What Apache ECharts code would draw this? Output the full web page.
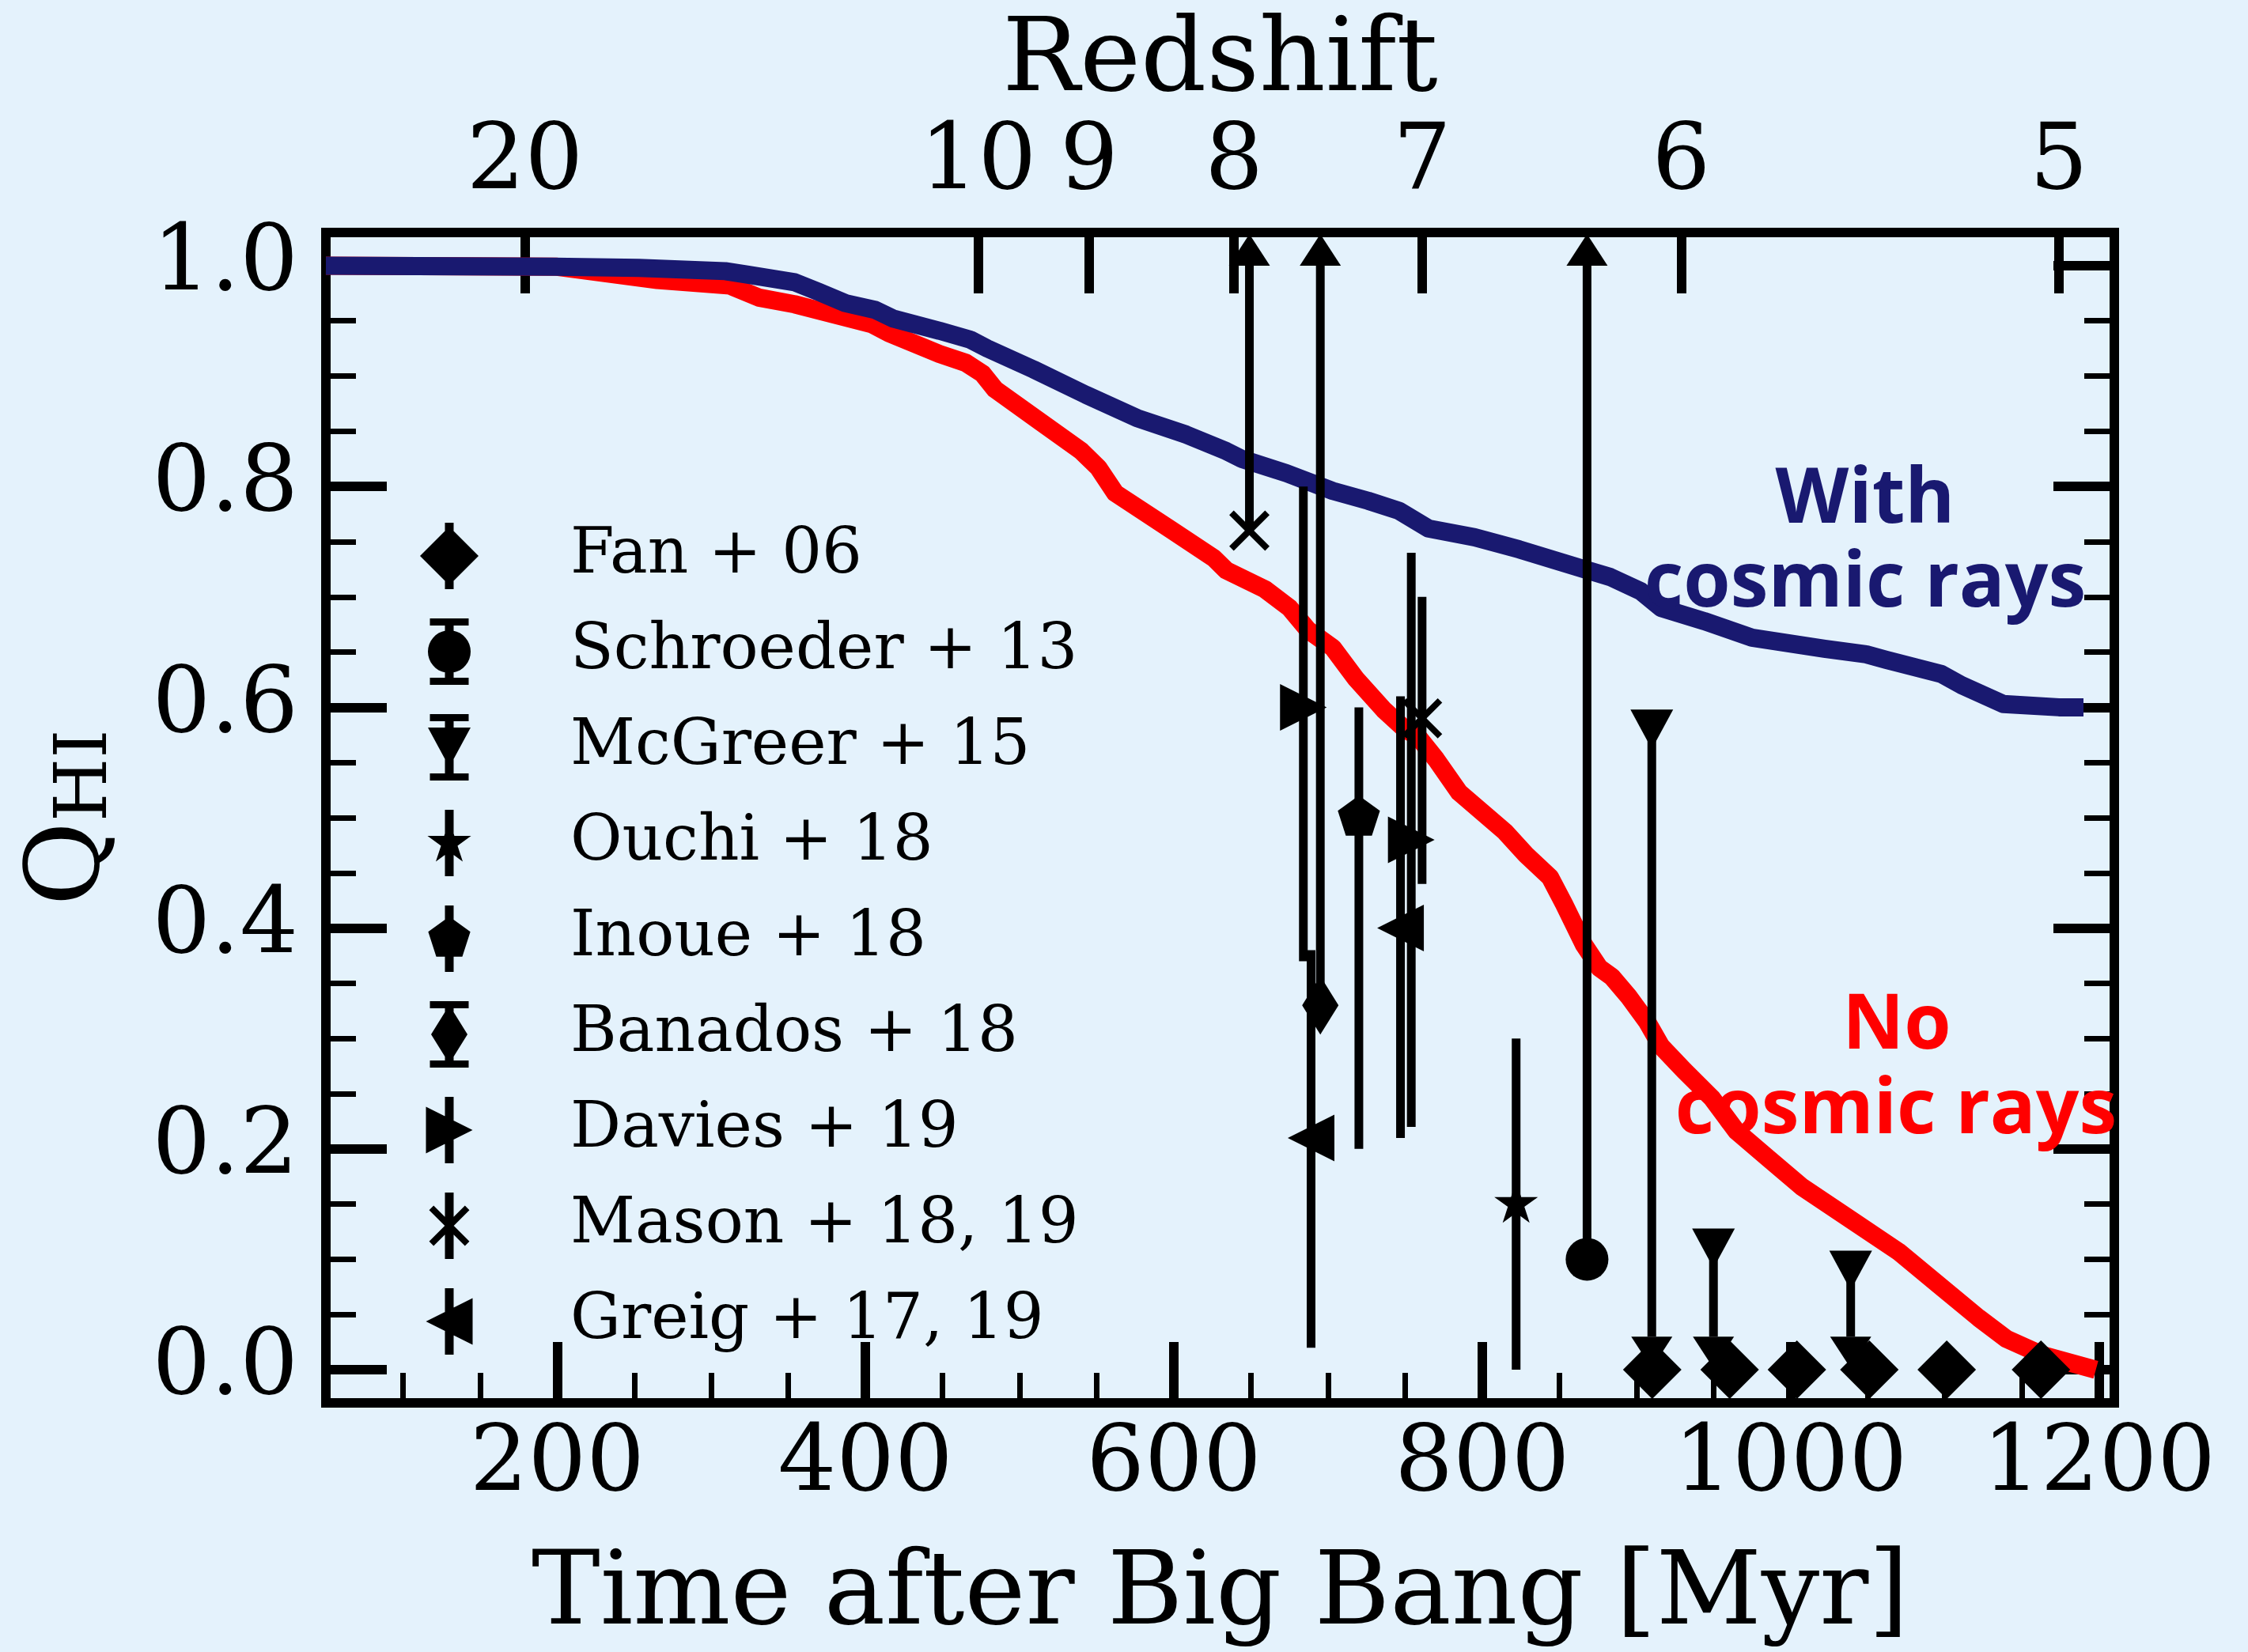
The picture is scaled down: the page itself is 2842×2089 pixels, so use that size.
<!DOCTYPE html>
<html>
<head>
<meta charset="utf-8">
<title>Neutral hydrogen fraction versus cosmic time</title>
<script src="https://cdn.jsdelivr.net/npm/echarts@6/dist/echarts.min.js"></script>
<style>
  html, body { margin: 0; padding: 0; background: #e4f2fc; }
  #chart { width: 2842px; height: 2089px; }
</style>
</head>
<body>
<div id="chart"></div>
<script>
// ---------------- model curves: Q_HI against time after the Big Bang [Myr]
const noCrTime = [50, 200, 265, 312, 331, 354, 379, 404, 415, 448, 465, 476, 484, 512, 540, 551, 562, 598, 626, 634,
  659, 675, 687, 703, 718, 736, 750, 758, 770, 785, 805, 815, 828, 844, 853, 866, 876, 884, 895, 907, 916, 931, 949,
  965, 986, 1007, 1038, 1070, 1096, 1122, 1140, 1164, 1198];
const noCrQ = [1.000, 0.999, 0.987, 0.982, 0.971, 0.965, 0.956, 0.947, 0.939, 0.920, 0.912, 0.902, 0.888, 0.860, 0.832,
  0.817, 0.794, 0.761, 0.735, 0.724, 0.707, 0.690, 0.670, 0.654, 0.626, 0.598, 0.580, 0.574, 0.553, 0.523, 0.499, 0.487,
  0.467, 0.446, 0.422, 0.385, 0.364, 0.356, 0.338, 0.315, 0.293, 0.271, 0.246, 0.216, 0.191, 0.166, 0.137, 0.107, 0.077,
  0.047, 0.028, 0.013, 0.000];

const withCrTime = [50, 198, 253, 309, 323, 354, 370, 387, 406, 418, 448, 468, 479, 509, 543, 576, 608, 634, 644, 673,
  703, 726, 746, 765, 795, 824, 864, 883, 903, 916, 944, 975, 1022, 1049, 1062, 1098, 1111, 1138, 1174, 1190];
const withCrQ = [1.000, 0.999, 0.998, 0.995, 0.992, 0.985, 0.976, 0.966, 0.960, 0.952, 0.941, 0.933, 0.925, 0.906, 0.883,
  0.862, 0.847, 0.832, 0.825, 0.812, 0.796, 0.787, 0.778, 0.762, 0.754, 0.743, 0.726, 0.718, 0.705, 0.690, 0.678, 0.663,
  0.653, 0.648, 0.643, 0.630, 0.620, 0.603, 0.600, 0.600];

// ---------------- observational constraints (limit: 1 = lower limit, -1 = upper limit, 0 = measurement)
const fanTime = [910.3, 960.5, 1004.1, 1051.1, 1101.3, 1162.4];
const fanQ    = [0, 0, 0, 0, 0, 0];
const fanLo   = [0, 0, 0, 0, 0, 0];
const fanHi   = [0, 0, 0, 0, 0, 0];
const fanLim  = [0, 0, 0, 0, 0, 0];

const schroederTime = [868];
const schroederQ    = [0.10];
const schroederLo   = [0];
const schroederHi   = [0.90];
const schroederLim  = [1];

const mcgreerTime = [910, 950, 1039];
const mcgreerQ    = [0.58, 0.11, 0.09];
const mcgreerLo   = [0.55, 0.08, 0.06];
const mcgreerHi   = [0, 0, 0];
const mcgreerLim  = [-1, -1, -1];

const ouchiTime = [822];
const ouchiQ    = [0.15];
const ouchiLo   = [0.15];
const ouchiHi   = [0.15];
const ouchiLim  = [0];

const inoueTime = [720];
const inoueQ    = [0.50];
const inoueLo   = [0.30];
const inoueHi   = [0.10];
const inoueLim  = [0];

const banadosTime = [695];
const banadosQ    = [0.33];
const banadosLo   = [0];
const banadosHi   = [0.67];
const banadosLim  = [1];

const daviesTime = [684, 754];
const daviesQ    = [0.60, 0.48];
const daviesLo   = [0.23, 0.26];
const daviesHi   = [0.20, 0.26];
const daviesLim  = [0, 0];

const masonTime = [649, 761];
const masonQ    = [0.76, 0.59];
const masonLo   = [0, 0.15];
const masonHi   = [0.24, 0.11];
const masonLim  = [1, 0];

const greigTime = [689, 747];
const greigQ    = [0.21, 0.40];
const greigLo   = [0.19, 0.19];
const greigHi   = [0.17, 0.21];
const greigLim  = [0, 0];

// ---------------- axis ticks and labels
const timeTicks = [200, 400, 600, 800, 1000, 1200];
const timeMinorTicks = [100, 150, 250, 300, 350, 450, 500, 550, 650, 700, 750, 850, 900, 950, 1050, 1100, 1150];
const redshiftLabels = ['20', '10', '9', '8', '7', '6', '5'];
const redshiftAges = [179, 473, 545, 639, 761, 929, 1174];
const qTicks = [0, 0.2, 0.4, 0.6, 0.8, 1.0];
const qMinorTicks = [0.05, 0.1, 0.15, 0.25, 0.3, 0.35, 0.45, 0.5, 0.55, 0.65, 0.7, 0.75, 0.85, 0.9, 0.95];

// ---------------- marker geometry (pixels, centred on the point)
function ngon(R, n, rot) {
  const pts = [];
  for (let i = 0; i < n; i++) {
    const a = (rot + i * 360 / n) * Math.PI / 180;
    pts.push([R * Math.cos(a), R * Math.sin(a)]);
  }
  return pts;
}
function starPts(R, r) {
  const pts = [];
  for (let i = 0; i < 10; i++) {
    const a = (-90 + i * 36) * Math.PI / 180;
    const rr = i % 2 === 0 ? R : r;
    pts.push([rr * Math.cos(a), rr * Math.sin(a)]);
  }
  return pts;
}
function armPts(angleDeg, halfLen, halfW) {
  const a = angleDeg * Math.PI / 180;
  const d = [Math.cos(a), Math.sin(a)], n = [-Math.sin(a), Math.cos(a)];
  return [
    [-halfLen * d[0] - halfW * n[0], -halfLen * d[1] - halfW * n[1]],
    [ halfLen * d[0] - halfW * n[0],  halfLen * d[1] - halfW * n[1]],
    [ halfLen * d[0] + halfW * n[0],  halfLen * d[1] + halfW * n[1]],
    [-halfLen * d[0] + halfW * n[0], -halfLen * d[1] + halfW * n[1]]
  ];
}
const MARKERS = {
  diamond:     [[[0, -37], [37, 0], [0, 37], [-37, 0]]],
  circle:      [ngon(27, 36, -90)],
  triDown:     [[[-27, -25], [27, -25], [0, 25]]],
  star:        [starPts(29, 11)],
  pentagon:    [ngon(28, 5, -90)],
  thinDiamond: [[[0, -37], [23, 0], [0, 37], [-23, 0]]],
  triRight:    [[[-29.5, -29.5], [29.5, 0], [-29.5, 29.5]]],
  cross:       [armPts(45, 32, 4), armPts(-45, 32, 4)],
  triLeft:     [[[29.5, -29.5], [29.5, 29.5], [-29.5, 0]]]
};
const CARET_UP = [[-26, 0], [0, -40], [26, 0]];
const CARET_DOWN = [[26, 0], [0, 40], [-26, 0]];
const BAR_HALF = 5.5;

function shift(pts, x, y) { return pts.map(p => [p[0] + x, p[1] + y]); }
function rectPts(x0, y0, x1, y1) { return [[x0, y0], [x1, y0], [x1, y1], [x0, y1]]; }
function polyEl(points) { return { type: 'polygon', shape: { points: points }, style: { fill: '#000' } }; }

function makeRenderer(markerName) {
  return function (params, api) {
    const t = api.value(0), q = api.value(1), lo = api.value(2), hi = api.value(3), lim = api.value(4);
    const c = api.coord([t, q]);
    const yTop = api.coord([t, q + hi])[1];
    const yBot = api.coord([t, q - lo])[1];
    const children = [];
    if (lo > 0 || hi > 0) children.push(polyEl(rectPts(c[0] - BAR_HALF, yTop, c[0] + BAR_HALF, yBot)));
    if (lim === 1) children.push(polyEl(shift(CARET_UP, c[0], yTop)));
    if (lim === -1) children.push(polyEl(shift(CARET_DOWN, c[0], yBot)));
    MARKERS[markerName].forEach(p => children.push(polyEl(shift(p, c[0], c[1]))));
    return { type: 'group', children: children };
  };
}

// legend handle: marker on a short vertical error bar, optional caps
function legendIcon(markerName, caps) {
  const cx = 40, cy = 42;
  const polys = [rectPts(cx - BAR_HALF, 0, cx + BAR_HALF, 84)];
  if (caps) {
    polys.push(rectPts(cx - 24.5, 0, cx + 24.5, 9));
    polys.push(rectPts(cx - 24.5, 75, cx + 24.5, 84));
  }
  MARKERS[markerName].forEach(p => polys.push(shift(p, cx, cy)));
  return 'path://' + polys.map(pts =>
    'M' + pts.map(p => p[0].toFixed(2) + ' ' + p[1].toFixed(2)).join(' L') + ' Z').join(' ');
}

function zip(a, b) { return a.map((v, i) => [v, b[i]]); }
function rows(t, q, lo, hi, lim) { return t.map((v, i) => [v, q[i], lo[i], hi[i], lim[i]]); }

const datasets = [
  { name: 'Fan + 06',        marker: 'diamond',     caps: false, data: rows(fanTime, fanQ, fanLo, fanHi, fanLim) },
  { name: 'Schroeder + 13',  marker: 'circle',      caps: true,  data: rows(schroederTime, schroederQ, schroederLo, schroederHi, schroederLim) },
  { name: 'McGreer + 15',    marker: 'triDown',     caps: true,  data: rows(mcgreerTime, mcgreerQ, mcgreerLo, mcgreerHi, mcgreerLim) },
  { name: 'Ouchi + 18',      marker: 'star',        caps: false, data: rows(ouchiTime, ouchiQ, ouchiLo, ouchiHi, ouchiLim) },
  { name: 'Inoue + 18',      marker: 'pentagon',    caps: false, data: rows(inoueTime, inoueQ, inoueLo, inoueHi, inoueLim) },
  { name: 'Banados + 18',    marker: 'thinDiamond', caps: true,  data: rows(banadosTime, banadosQ, banadosLo, banadosHi, banadosLim) },
  { name: 'Davies + 19',     marker: 'triRight',    caps: false, data: rows(daviesTime, daviesQ, daviesLo, daviesHi, daviesLim) },
  { name: 'Mason + 18, 19',  marker: 'cross',       caps: false, data: rows(masonTime, masonQ, masonLo, masonHi, masonLim) },
  { name: 'Greig + 17, 19',  marker: 'triLeft',     caps: false, data: rows(greigTime, greigQ, greigLo, greigHi, greigLim) }
];

const SERIF = 'DejaVu Serif';
const X_MIN = 50, X_MAX = 1210, Y_MIN = -0.03, Y_MAX = 1.03;

function tickAxis(extra) {
  return Object.assign({
    type: 'value',
    axisLine: { show: false, onZero: false },
    splitLine: { show: false },
    axisLabel: { show: false },
    axisPointer: { show: false }
  }, extra);
}
const labelStyle = { fontFamily: SERIF, fontSize: 116, lineHeight: 116, color: '#000' };

// legend icons sit centred in a wide slot; the slot's empty left part is trimmed by the layout
const LEGEND_SLOT = 296;
const LEGEND_TRIM = LEGEND_SLOT / 2 - 37;

const option = {
  backgroundColor: '#e4f2fc',
  animation: false,
  grid: {
    left: 412, right: 169, top: 294, bottom: 298,
    show: true, borderColor: '#000', borderWidth: 12, backgroundColor: 'transparent'
  },
  xAxis: [
    tickAxis({
      position: 'bottom', min: X_MIN, max: X_MAX,
      axisTick: { show: true, inside: true, length: 77, lineStyle: { color: '#000', width: 12 }, customValues: timeTicks },
      axisLabel: Object.assign({ show: true, margin: 22, customValues: timeTicks, formatter: v => String(v) }, labelStyle),
      name: 'Time after Big Bang [Myr]', nameLocation: 'middle', nameGap: 180,
      nameTextStyle: { fontFamily: SERIF, fontSize: 130, lineHeight: 130, color: '#000' }
    }),
    tickAxis({
      position: 'bottom', min: X_MIN, max: X_MAX,
      axisTick: { show: true, inside: true, length: 38, lineStyle: { color: '#000', width: 7 }, customValues: timeMinorTicks }
    }),
    tickAxis({
      position: 'top', min: X_MIN, max: X_MAX,
      axisTick: { show: true, inside: true, length: 77, lineStyle: { color: '#000', width: 12 }, customValues: redshiftAges },
      axisLabel: Object.assign({
        show: true, margin: 28, customValues: redshiftAges,
        formatter: v => redshiftLabels[redshiftAges.indexOf(v)]
      }, labelStyle),
      name: 'Redshift', nameLocation: 'middle', nameGap: 145,
      nameTextStyle: { fontFamily: SERIF, fontSize: 130, lineHeight: 130, color: '#000' }
    })
  ],
  yAxis: [
    tickAxis({
      position: 'left', min: Y_MIN, max: Y_MAX,
      axisTick: { show: true, inside: true, length: 77, lineStyle: { color: '#000', width: 12 }, customValues: qTicks },
      axisLabel: Object.assign({ show: true, margin: 35, customValues: qTicks, formatter: v => v.toFixed(1) }, labelStyle),
      name: '{q|Q}{s|HI}', nameLocation: 'middle', nameRotate: 90, nameGap: 256,
      nameTextStyle: {
        color: '#000',
        rich: {
          q: { fontFamily: SERIF, fontSize: 130, lineHeight: 130, verticalAlign: 'bottom', color: '#000' },
          s: { fontFamily: SERIF, fontSize: 92, lineHeight: 48, verticalAlign: 'bottom', color: '#000' }
        }
      }
    }),
    tickAxis({
      position: 'left', min: Y_MIN, max: Y_MAX,
      axisTick: { show: true, inside: true, length: 38, lineStyle: { color: '#000', width: 7 }, customValues: qMinorTicks }
    }),
    tickAxis({
      position: 'right', min: Y_MIN, max: Y_MAX,
      axisTick: { show: true, inside: true, length: 77, lineStyle: { color: '#000', width: 12 }, customValues: qTicks }
    }),
    tickAxis({
      position: 'right', min: Y_MIN, max: Y_MAX,
      axisTick: { show: true, inside: true, length: 38, lineStyle: { color: '#000', width: 7 }, customValues: qMinorTicks }
    })
  ],
  legend: {
    orient: 'vertical', left: 420 + LEGEND_TRIM, top: 661, padding: 0,
    itemWidth: LEGEND_SLOT, itemHeight: 84, itemGap: 37,
    symbolKeepAspect: true, selectedMode: false,
    itemStyle: { color: '#000', borderWidth: 0 },
    textStyle: { fontFamily: SERIF, fontSize: 80, lineHeight: 80, color: '#000' },
    data: datasets.map(d => ({ name: d.name, icon: legendIcon(d.marker, d.caps) }))
  },
  series: [
    {
      type: 'line', name: 'No cosmic rays', data: zip(noCrTime, noCrQ),
      showSymbol: false, symbol: 'none', silent: true,
      lineStyle: { color: '#ff0000', width: 23, join: 'round' }, z: 2
    },
    {
      type: 'line', name: 'With cosmic rays', data: zip(withCrTime, withCrQ),
      showSymbol: false, symbol: 'none', silent: true,
      lineStyle: { color: '#191970', width: 23, join: 'round' }, z: 3
    }
  ].concat(datasets.map(d => ({
    type: 'custom', name: d.name, data: d.data, silent: true, clip: false,
    itemStyle: { color: '#000' },
    encode: { x: 0, y: 1 },
    renderItem: makeRenderer(d.marker), z: 4
  }))),
  graphic: [
    { type: 'text', x: 2358, y: 634, z: 10, style: { text: 'With', fill: '#191970', font: 'bold 96px "Open Sans"', align: 'center', verticalAlign: 'middle', textAlign: 'center', textVerticalAlign: 'middle' } },
    { type: 'text', x: 2358, y: 740, z: 10, style: { text: 'cosmic rays', fill: '#191970', font: 'bold 96px "Open Sans"', align: 'center', verticalAlign: 'middle', textAlign: 'center', textVerticalAlign: 'middle' } },
    { type: 'text', x: 2398, y: 1299, z: 10, style: { text: 'No', fill: '#ff0000', font: 'bold 96px "Open Sans"', align: 'center', verticalAlign: 'middle', textAlign: 'center', textVerticalAlign: 'middle' } },
    { type: 'text', x: 2397, y: 1406, z: 10, style: { text: 'cosmic rays', fill: '#ff0000', font: 'bold 96px "Open Sans"', align: 'center', verticalAlign: 'middle', textAlign: 'center', textVerticalAlign: 'middle' } }
  ]
};

const chart = echarts.init(document.getElementById('chart'), null, { renderer: 'canvas', width: 2842, height: 2089 });
chart.setOption(option);
</script>
</body>
</html>
